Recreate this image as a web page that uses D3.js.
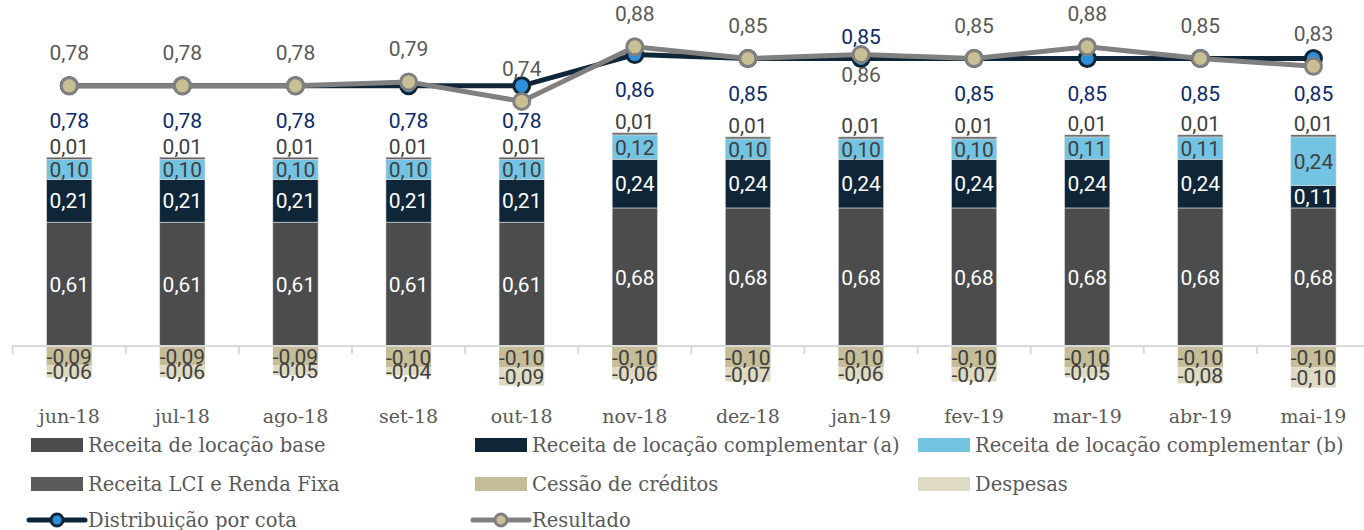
<!DOCTYPE html>
<html>
<head>
<meta charset="utf-8">
<script src="https://cdn.jsdelivr.net/npm/d3@7"></script>
<style>
  body { margin: 0; background: #fff; }
  svg { display: block; }
</style>
</head>
<body>
<div class="container"></div>
<script>
var WIDTH = 1364;
var HEIGHT = 530;

var categories = ['jun-18','jul-18','ago-18','set-18','out-18','nov-18','dez-18','jan-19','fev-19','mar-19','abr-19','mai-19'];
var receitaBase   = [0.61,0.61,0.61,0.61,0.61,0.68,0.68,0.68,0.68,0.68,0.68,0.68];
var complementarA = [0.21,0.21,0.21,0.21,0.21,0.24,0.24,0.24,0.24,0.24,0.24,0.11];
var complementarB = [0.10,0.10,0.10,0.10,0.10,0.12,0.10,0.10,0.10,0.11,0.11,0.24];
var receitaLCI    = [0.01,0.01,0.01,0.01,0.01,0.01,0.01,0.01,0.01,0.01,0.01,0.01];
var cessao        = [-0.09,-0.09,-0.09,-0.10,-0.10,-0.10,-0.10,-0.10,-0.10,-0.10,-0.10,-0.10];
var despesas      = [-0.06,-0.06,-0.05,-0.04,-0.09,-0.06,-0.07,-0.06,-0.07,-0.05,-0.08,-0.10];
var distribuicao  = [0.78,0.78,0.78,0.78,0.78,0.86,0.85,0.85,0.85,0.85,0.85,0.85];
var resultado     = [0.78,0.78,0.78,0.79,0.74,0.88,0.85,0.86,0.85,0.88,0.85,0.83];

// jan-19 has the two line labels swapped in the original
var flippedLabels = ['jan-19'];

var NUM_FONT = 'Roboto, sans-serif';
var NUM_SIZE = 21;
var SLAB_FONT = '"DejaVu Serif", serif';

var fmt = function (v) { return v.toFixed(2).replace('.', ','); };
var translate = function (x, y) { return 'translate(' + x + ',' + y + ')'; };

var loadChart = function () {
  var svg = d3.select('.container').append('svg')
    .attr('width', WIDTH)
    .attr('height', HEIGHT);

  var xScale = d3.scaleBand()
    .domain(categories)
    .range([12.7, 1370])
    .padding(0);
  var barW = xScale.bandwidth() * 0.4;
  var cx = function (c) { return xScale(c) + xScale.bandwidth() / 2; };

  // primary (bars)
  var yScale = d3.scaleLinear().domain([0, 1]).range([346, 143]);
  // secondary (lines)
  var yLine = d3.scaleLinear().domain([0.7, 0.9]).range([117, 39]);

  var positives = [
    { name: 'base', values: receitaBase, color: '#4b4c4e', text: '#ffffff' },
    { name: 'a', values: complementarA, color: '#0f2638', text: '#ffffff' },
    { name: 'b', values: complementarB, color: '#73c4e3', text: '#404040' },
    { name: 'lci', values: receitaLCI, color: '#5a5a5a', text: '#404040' }
  ];
  var negatives = [
    { name: 'cessao', values: cessao, color: '#c5bc98', text: '#404040' },
    { name: 'despesas', values: despesas, color: '#dfdac3', text: '#404040' }
  ];

  var barG = svg.append('g');
  var labelG = svg.append('g');

  categories.forEach(function (c, i) {
    var acc = 0;
    positives.forEach(function (s) {
      var v = s.values[i];
      var y0 = yScale(acc), y1 = yScale(acc + v);
      barG.append('rect')
        .attr('x', cx(c) - barW / 2)
        .attr('y', y1)
        .attr('width', barW)
        .attr('height', y0 - y1)
        .attr('fill', s.color)
        .attr('stroke', '#d9d9d9')
        .attr('stroke-width', 0.6);
      var ly = s.name === 'lci' ? y1 - 11 : (y0 + y1) / 2;
      labelG.append('text')
        .attr('x', cx(c))
        .attr('y', ly)
        .attr('dy', '0.36em')
        .attr('text-anchor', 'middle')
        .attr('font-family', NUM_FONT)
        .attr('font-size', NUM_SIZE)
        .attr('fill', s.text)
        .text(fmt(v));
      acc += v;
    });
    var neg = 0;
    negatives.forEach(function (s) {
      var v = s.values[i];
      var y0 = yScale(neg), y1 = yScale(neg + v);
      barG.append('rect')
        .attr('x', cx(c) - barW / 2)
        .attr('y', y0 + 1)
        .attr('width', barW)
        .attr('height', y1 - y0)
        .attr('fill', s.color);
      labelG.append('text')
        .attr('x', cx(c))
        .attr('y', (y0 + y1) / 2 + 1)
        .attr('dy', '0.36em')
        .attr('text-anchor', 'middle')
        .attr('font-family', NUM_FONT)
        .attr('font-size', NUM_SIZE)
        .attr('fill', s.text)
        .text(fmt(v));
      neg += v;
    });
  });

  // zero axis with boundary ticks
  var axisG = svg.append('g');
  axisG.append('line')
    .attr('x1', 12).attr('x2', WIDTH)
    .attr('y1', yScale(0)).attr('y2', yScale(0))
    .attr('stroke', '#d9d9d9').attr('stroke-width', 2);
  axisG.selectAll('.tick')
    .data(categories)
    .enter().append('line')
    .attr('x1', function (d) { return xScale(d); })
    .attr('x2', function (d) { return xScale(d); })
    .attr('y1', yScale(0)).attr('y2', yScale(0) + 8)
    .attr('stroke', '#d9d9d9').attr('stroke-width', 2);
  axisG.selectAll('.cat')
    .data(categories)
    .enter().append('text')
    .attr('x', function (d) { return cx(d); })
    .attr('y', 416)
    .attr('dy', '0.36em')
    .attr('text-anchor', 'middle')
    .attr('font-family', SLAB_FONT)
    .attr('font-size', 19)
    .attr('fill', '#595959')
    .text(function (d) { return d; });

  // lines
  var line = d3.line()
    .x(function (d, i) { return cx(categories[i]); })
    .y(function (d) { return yLine(d); });

  var lineG = svg.append('g');
  lineG.append('path')
    .datum(distribuicao)
    .attr('d', line)
    .attr('fill', 'none')
    .attr('stroke', '#0f2638')
    .attr('stroke-width', 5);
  lineG.selectAll('.dist')
    .data(distribuicao)
    .enter().append('circle')
    .attr('cx', function (d, i) { return cx(categories[i]); })
    .attr('cy', function (d) { return yLine(d); })
    .attr('r', 8)
    .attr('fill', '#2e8fd8')
    .attr('stroke', '#0f2638')
    .attr('stroke-width', 3);

  lineG.append('path')
    .datum(resultado)
    .attr('d', line)
    .attr('fill', 'none')
    .attr('stroke', '#808080')
    .attr('stroke-width', 5);
  lineG.selectAll('.res')
    .data(resultado)
    .enter().append('circle')
    .attr('cx', function (d, i) { return cx(categories[i]); })
    .attr('cy', function (d) { return yLine(d); })
    .attr('r', 8)
    .attr('fill', '#c8bf95')
    .attr('stroke', '#808080')
    .attr('stroke-width', 3);

  categories.forEach(function (c, i) {
    var flip = flippedLabels.indexOf(c) >= 0;
    labelG.append('text')
      .attr('x', cx(c))
      .attr('y', flip ? yLine(resultado[i]) + 20 : yLine(resultado[i]) - 33)
      .attr('dy', '0.36em')
      .attr('text-anchor', 'middle')
      .attr('font-family', NUM_FONT)
      .attr('font-size', NUM_SIZE)
      .attr('fill', '#595959')
      .text(fmt(resultado[i]));
    labelG.append('text')
      .attr('x', cx(c))
      .attr('y', flip ? yLine(distribuicao[i]) - 22 : yLine(distribuicao[i]) + 35)
      .attr('dy', '0.36em')
      .attr('text-anchor', 'middle')
      .attr('font-family', NUM_FONT)
      .attr('font-size', NUM_SIZE)
      .attr('fill', '#0b2a6b')
      .text(fmt(distribuicao[i]));
  });
  labelG.raise();

  // legend
  var legendItems = [
    { label: 'Receita de locação base', type: 'rect', color: '#4b4c4e' },
    { label: 'Receita de locação complementar (a)', type: 'rect', color: '#0f2638' },
    { label: 'Receita de locação complementar (b)', type: 'rect', color: '#73c4e3' },
    { label: 'Receita LCI e Renda Fixa', type: 'rect', color: '#5a5a5a' },
    { label: 'Cessão de créditos', type: 'rect', color: '#c5bc98' },
    { label: 'Despesas', type: 'rect', color: '#dfdac3' },
    { label: 'Distribuição por cota', type: 'line', color: '#0f2638', fill: '#2e8fd8' },
    { label: 'Resultado', type: 'line', color: '#808080', fill: '#c8bf95' }
  ];
  var colX = [31, 475, 918];
  var rowY = [445, 484, 520];

  var legend = svg.append('g');
  legendItems.forEach(function (it, k) {
    var g = legend.append('g')
      .attr('transform', translate(colX[k % 3], rowY[Math.floor(k / 3)]));
    if (it.type === 'rect') {
      g.append('rect')
        .attr('x', 0).attr('y', -7)
        .attr('width', 52).attr('height', 14)
        .attr('fill', it.color);
    } else {
      g.append('line')
        .attr('x1', -2).attr('x2', 54)
        .attr('y1', 0).attr('y2', 0)
        .attr('stroke', it.color).attr('stroke-width', 5)
        .attr('stroke-linecap', 'round');
      g.append('circle')
        .attr('cx', 26).attr('cy', 0).attr('r', 6)
        .attr('fill', it.fill)
        .attr('stroke', it.color).attr('stroke-width', 3);
    }
    g.append('text')
      .attr('x', 57).attr('y', 0)
      .attr('dy', '0.36em')
      .attr('font-family', SLAB_FONT)
      .attr('font-size', 19.5)
      .attr('fill', '#595959')
      .text(it.label);
  });
};

window.onload = loadChart;
</script>
</body>
</html>
